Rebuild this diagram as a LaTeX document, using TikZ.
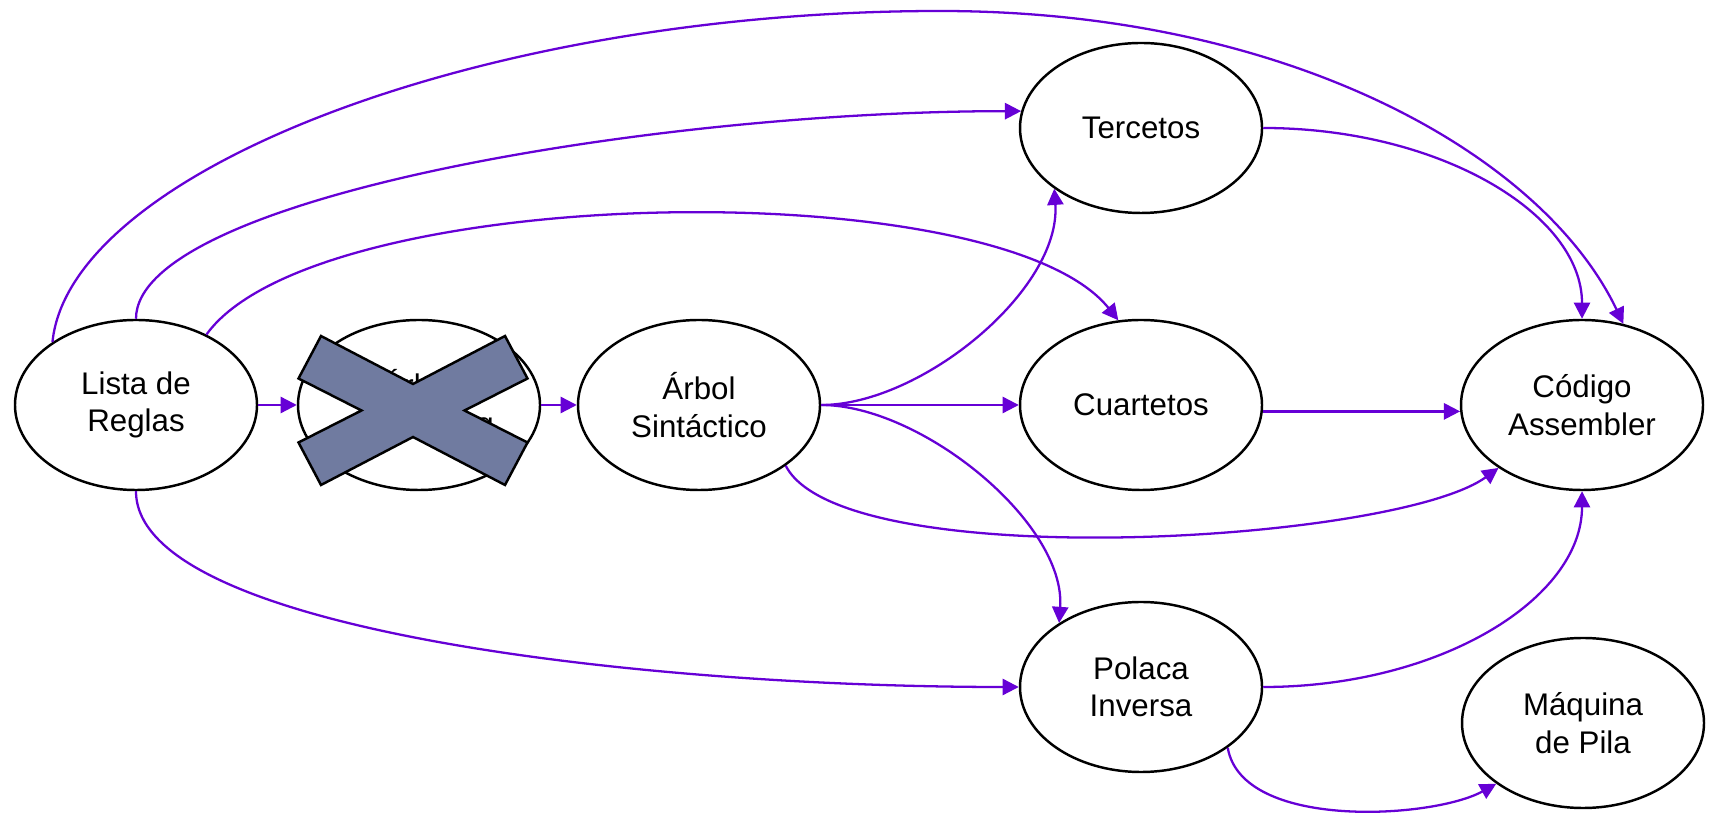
\documentclass[tikz,border=0pt]{standalone}
\usepackage{fontspec}
\setmainfont{Liberation Sans}
\usepackage{tikz}
\usetikzlibrary{arrows.meta,shapes.geometric,positioning,calc}
\definecolor{violeta}{HTML}{6600D6}
\definecolor{tachado}{HTML}{707BA0}
\tikzset{>={Triangle[length=4.6pt,width=4.6pt]},
         etapa/.style={ellipse,draw,line width=0.7pt,fill=white,
           minimum width=2.42cm,minimum height=1.70cm,inner sep=0pt,
           align=center,font=\fontsize{8.9}{10.7}\selectfont},
         flecha/.style={->,draw=violeta,line width=0.65pt},
         tachar/.style={draw,line width=0.7pt,fill=tachado}}

\begin{document}
\begin{tikzpicture}
            \useasboundingbox[fill=white] (0,0) rectangle (17.12,8.17);
            % etapas
            \node[etapa] (reglas) at (1.36,4.12) {Lista de\\Reglas};
            \node[etapa] (parsing) at (4.19,4.12) {Árbol\\de Parsing};
            \node[etapa] (arbol) at (6.99,4.12) {Árbol\\Sintáctico};
            \node[etapa] (tercetos) at (11.41,6.89) {Tercetos};
            \node[etapa] (cuartetos) at (11.41,4.12) {Cuartetos};
            \node[etapa] (polaca) at (11.41,1.30) {Polaca\\Inversa};
            \node[etapa] (codigo) at (15.82,4.12) {Código\\Assembler};
            \node[etapa] (maquina) at (15.83,0.94) {Máquina\\de Pila};
            \coordinate (cima) at (9.40,8.06);
            % la cruz
            \begin{scope}[shift={(4.13,4.065)}]
              \draw[tachar] (-0.92,0.745) -- (0,0.265) -- (0.92,0.745)
                -- (1.145,0.32) -- (0.515,0) -- (1.145,-0.32)
                -- (0.92,-0.745) -- (0,-0.265) -- (-0.92,-0.745)
                -- (-1.145,-0.32) -- (-0.515,0) -- (-1.145,0.32) -- cycle;
            \end{scope}
            % flechas
            \draw[flecha] (reglas) -- (parsing);
            \draw[flecha] (parsing) -- (arbol);
            \draw[flecha] (arbol) -- (cuartetos);
            \draw[flecha] (arbol.east) .. controls +(1.0,0) and +(0.07,-1.01) .. (tercetos.215);
            \draw[flecha] (arbol.east) .. controls +(1.0,0) and +(0.07,1.0) .. (polaca.142);
            \draw[flecha] (arbol.-35) .. controls +(0.56,-1.10) and +(-1.03,-0.75) .. (codigo.217);
            \draw[flecha] (reglas.north) .. controls +(0,1.2) and +(-3.71,0) .. (tercetos.172);
            \draw[flecha] (reglas.143) .. controls +(0.17,1.70) and +(-4.6,0) .. (cima)
                 .. controls +(3.5,0) and +(-0.80,1.68) .. (codigo.63);
            \draw[flecha] (reglas.45) .. controls +(1.09,1.52) and +(-1.20,1.50) .. (cuartetos.105);
            \draw[flecha] (reglas.south) .. controls +(0,-1.40) and +(-3.71,0) .. (polaca.west);
            \draw[flecha] (tercetos.east) .. controls +(1.76,0) and +(0,1.05) .. (codigo.north);
            \draw[flecha] (cuartetos.-3) -- (codigo.183);
            \draw[flecha] (polaca.east) .. controls +(1.76,0) and +(0,-1.08) .. (codigo.south);
            \draw[flecha] (polaca.-35) .. controls +(0.14,-0.83) and +(-0.63,-0.35) .. (maquina.215);
\end{tikzpicture}
\end{document}
